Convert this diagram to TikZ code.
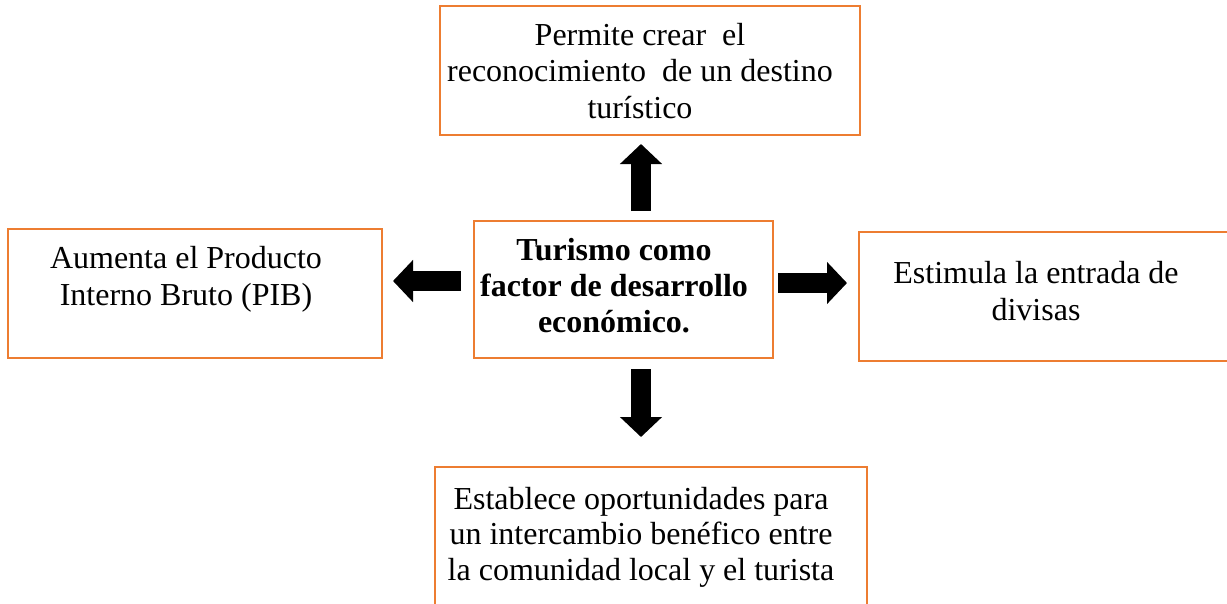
\documentclass[tikz,border=0pt]{standalone}
\usepackage{fontspec}
\setmainfont{Liberation Serif}
\usetikzlibrary{arrows.meta}
\definecolor{boxorange}{HTML}{ED7D31}
\tikzset{
  box/.style={draw=boxorange, line width=2pt, fill=white, inner sep=0pt, rectangle},
  txt/.style={align=center, font=\fontsize{32}{36.5}\selectfont, anchor=base, inner sep=0pt},
  blockarrow/.style={line width=20pt, black, -{Triangle[width=41pt,length=20pt]}}
}
\begin{document}
\begin{tikzpicture}[x=1pt,y=-1pt]
\useasboundingbox (0,0) rectangle (1227,603);
\clip (0,0) rectangle (1227,603);
% boxes
\node[box, minimum width=420pt, minimum height=129pt] (top) at (650,70.5) {};
\node[box, minimum width=374pt, minimum height=129pt] (left) at (195,293.5) {};
\node[box, minimum width=299pt, minimum height=137pt] (c) at (623.5,289.5) {};
\node[box, minimum width=380pt, minimum height=129pt] (right) at (1049,296.5) {};
\node[box, minimum width=432pt, minimum height=145pt] (bottom) at (651,539.5) {};
% texts (anchor = baseline of last line)
\node[txt] (ttop) at (640,118) {Permite crear\ \ el\\reconocimiento\ \ de un destino\\turístico};
\node[txt] (tleft) at (186,305) {Aumenta el Producto\\Interno Bruto (PIB)};
\node[txt, font=\fontsize{32}{36}\selectfont\bfseries] (tc) at (614,332) {Turismo como\\factor de desarrollo\\económico.};
\node[txt] (tright) at (1036,320) {Estimula la entrada de\\divisas};
\node[txt, font=\fontsize{32}{35.5}\selectfont] (tbottom) at (641,580) {Establece oportunidades para\\un intercambio benéfico entre\\la comunidad local y el turista};
% arrows
\coordinate (up) at ([xshift=17.5pt]c.north);
\coordinate (dn) at ([xshift=17.5pt]c.south);
\coordinate (lf) at ([yshift=8.5pt]c.west);
\coordinate (rt) at ([yshift=6.5pt]c.east);
\draw[blockarrow, shorten <=9pt, shorten >=8pt] (up) -- (up |- top.south);
\draw[blockarrow, shorten <=10pt, shorten >=29pt] (dn) -- (dn |- bottom.north);
\draw[blockarrow, shorten <=12pt, shorten >=10pt] (lf) -- (lf -| left.east);
\draw[blockarrow, shorten <=4pt, shorten >=11pt] (rt) -- (rt -| right.west);
\end{tikzpicture}
\end{document}
